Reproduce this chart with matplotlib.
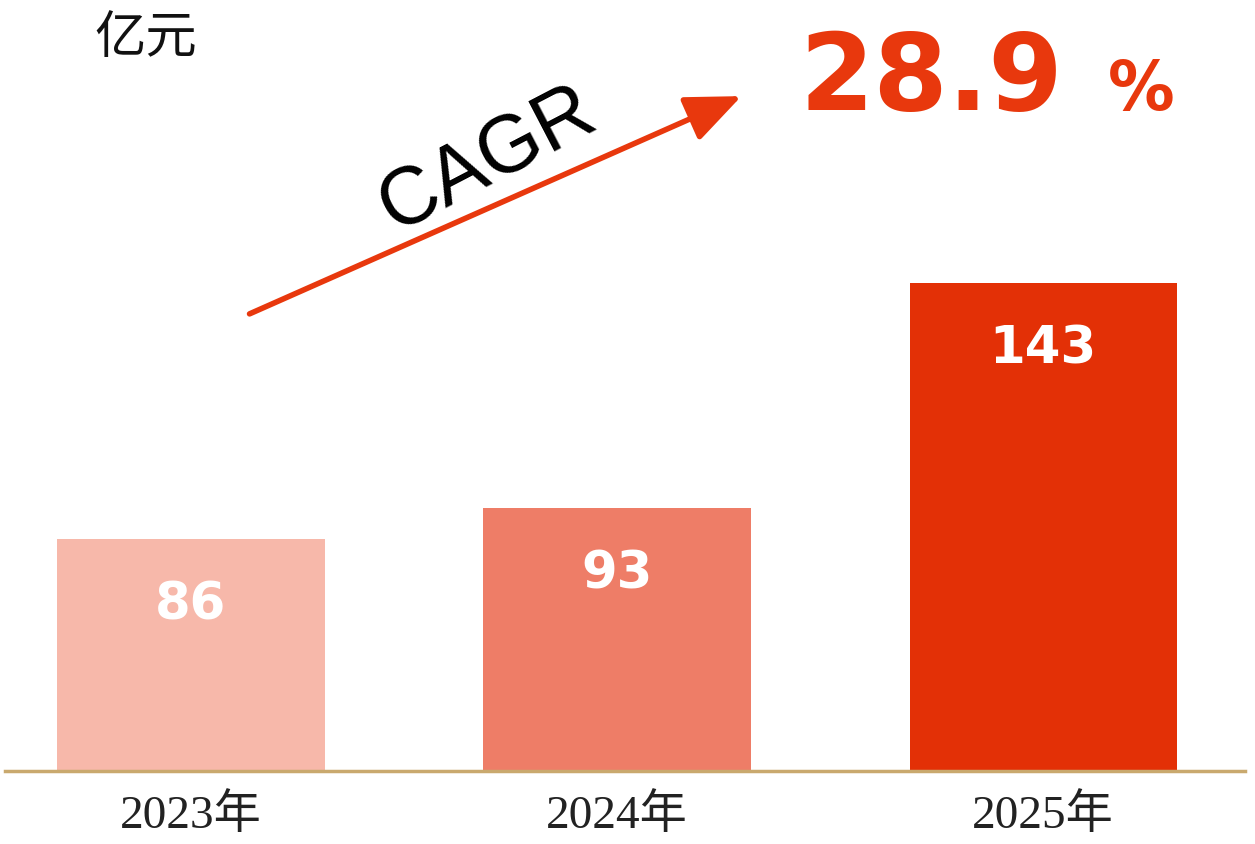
"""Bar chart: revenue 2023-2025 (亿元) with CAGR arrow callout."""

import matplotlib
matplotlib.use("Agg")
import matplotlib.pyplot as plt

# data
years = ["2023年", "2024年", "2025年"]
values = [86, 93, 143]
bar_colors = ["#F7B8AA", "#EE7D67", "#E33006"]
unit_label = "亿元"
cagr_label = "CAGR"
cagr_value = "28.9"

W, H = 1255, 845
RED = "#E8380D"


def px(x, y):
    """pixel position (from top-left) -> figure fraction"""
    return x / W, 1 - y / H


def main() -> None:
    plt.rcParams["font.family"] = ["Noto Sans CJK SC", "DejaVu Sans"]

    fig = plt.figure(figsize=(W / 100, H / 100), dpi=100)
    # axes spans baseline (y=772px) up to top edge
    ax = fig.add_axes([5 / W, 73 / H, 1240 / W, 772 / H])

    x = list(range(len(values)))
    ax.bar(x, values, width=0.627, color=bar_colors, zorder=1)
    ax.set_xlim(-0.4366, 2.474)
    ax.set_ylim(34.6, 206)

    for s in ("top", "left", "right"):
        ax.spines[s].set_visible(False)
    ax.spines["bottom"].set_color("#C9A96E")
    ax.spines["bottom"].set_linewidth(2.5)
    ax.spines["bottom"].set_zorder(3)
    ax.set_yticks([])
    ax.set_xticks(x)
    ax.set_xticklabels(years, family=["Liberation Serif", "Noto Sans CJK SC"],
                       fontsize=34, color="#222222")
    ax.tick_params(axis="x", length=0, pad=16)

    # value labels inside bars
    for xi, v in zip(x, values):
        ax.annotate(str(v), (xi, v), xytext=(0, -47), textcoords="offset points",
                    ha="center", va="center", color="white", fontsize=37,
                    fontweight="bold", family="DejaVu Sans")

    # unit
    fig.text(*px(94, 38), unit_label, fontsize=37, ha="left", va="center",
             color="#111111")

    # CAGR arrow
    fig.patches.append(matplotlib.patches.FancyArrowPatch(
        px(247, 316), px(744, 96), transform=fig.transFigure,
        arrowstyle="-|>,head_length=1.9,head_width=0.8", mutation_scale=18,
        color=RED, linewidth=4))
    fig.text(*px(488, 160), cagr_label, fontsize=58, rotation=27.5,
             rotation_mode="anchor", ha="center", va="center",
             family="Liberation Sans", color="black")

    # CAGR value
    fig.text(*px(800, 110), cagr_value, fontsize=77, fontweight="bold",
             family="DejaVu Sans", color=RED, ha="left", va="baseline")
    fig.text(*px(1108, 110), "%", fontsize=48, fontweight="bold",
             family="DejaVu Sans", color=RED, ha="left", va="baseline")

    fig.savefig("out.png", dpi=100, facecolor="white")
    plt.close(fig)


if __name__ == "__main__":
    main()
